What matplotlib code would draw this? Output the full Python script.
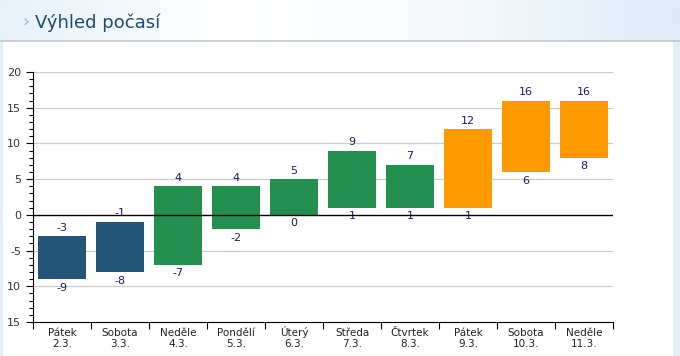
import numpy as np
import matplotlib.pyplot as plt
from matplotlib.ticker import MultipleLocator
from matplotlib.colors import LinearSegmentedColormap

# ── data ───────────────────────────────────────────────
days   = ['Pátek', 'Sobota', 'Neděle', 'Pondělí', 'Úterý',
          'Středa', 'Čtvrtek', 'Pátek', 'Sobota', 'Neděle']
dates  = ['2.3.', '3.3.', '4.3.', '5.3.', '6.3.',
          '7.3.', '8.3.', '9.3.', '10.3.', '11.3.']
t_max  = [-3, -1, 4, 4, 5, 9, 7, 12, 16, 16]
t_min  = [-9, -8, -7, -2, 0, 1, 1, 1, 6, 8]
colors = ['#225577', '#225577', '#23904f', '#23904f', '#23904f',
          '#23904f', '#23904f', '#ff9900', '#ff9900', '#ff9900']
yticks = [-15, -10, -5, 0, 5, 10, 15, 20]
ytick_labels = ['15', '10', '-5', '0', '5', '10', '15', '20']

W, H = 680, 356
fig = plt.figure(figsize=(W / 100, H / 100), dpi=100, facecolor='white')

# header band with gradient
hdr = fig.add_axes([0, 1 - 41 / H, 1, 41 / H])
grad = np.linspace(0, 1, 256)[None, :]
cm = LinearSegmentedColormap.from_list('h', ['#e6f1fa', '#ffffff', '#f6fafd', '#dcebf7'])
hdr.imshow(grad, aspect='auto', cmap=cm, extent=[0, 1, 0, 1])
hdr.axis('off')
hdr.text(22 / W, 0.45, '›', color='#8fb8d8', fontsize=12, va='center', ha='left')
hdr.text(35 / W, 0.45, 'Výhled počasí', color='#1e4b70', fontsize=13,
         va='center', ha='left')
fig.add_artist(plt.Line2D([0, 1], [1 - 41 / H] * 2, color='#c4c8cc', lw=1.2))
# side strips
fig.add_artist(plt.Rectangle((0, 0), 3 / W, 1 - 41 / H, color='#e3eef7', lw=0))
fig.add_artist(plt.Rectangle((673 / W, 0), 7 / W, 1 - 41 / H, color='#e3eef7', lw=0))

# ── chart ──────────────────────────────────────────────
ax = fig.add_axes([33 / W, 1 - 322 / H, 580 / W, 250 / H])
x = np.arange(len(days))
heights = np.array(t_max) - np.array(t_min)
ax.bar(x, heights, bottom=t_min, width=0.84, color=colors, zorder=3)

for xi, hi, lo in zip(x, t_max, t_min):
    ax.text(xi, hi + 0.5, str(hi), ha='center', va='bottom', fontsize=8, color='#1a1a6e')
    ax.text(xi, lo - 0.5, str(lo), ha='center', va='top', fontsize=8, color='#1a1a6e')

ax.set_xlim(-0.5, len(days) - 0.5)
ax.set_ylim(-15, 20)
ax.set_yticks(yticks)
ax.set_yticklabels(ytick_labels, fontsize=8, color='#333333')
ax.yaxis.set_minor_locator(MultipleLocator(1))
ax.tick_params(axis='y', which='major', length=5, width=0.8)
ax.tick_params(axis='y', which='minor', length=3, width=0.8)
for y in yticks[1:]:
    if y != 0:
        ax.axhline(y, color='#cccccc', lw=0.9, zorder=1)
ax.axhline(0, color='black', lw=1, zorder=4)

ax.set_xticks(np.arange(len(days) + 1) - 0.5)
ax.set_xticklabels([])
ax.tick_params(axis='x', length=5, width=0.8)
trans = ax.get_xaxis_transform()
for xi, d, dt in zip(x, days, dates):
    ax.text(xi, -14 / 250, d, ha='center', va='baseline', fontsize=7.5,
            color='#222222', transform=trans)
    ax.text(xi, -25 / 250, dt, ha='center', va='baseline', fontsize=7.5,
            color='#222222', transform=trans)

for s in ['top', 'right']:
    ax.spines[s].set_visible(False)

fig.savefig('out.png', dpi=100, facecolor='white')
